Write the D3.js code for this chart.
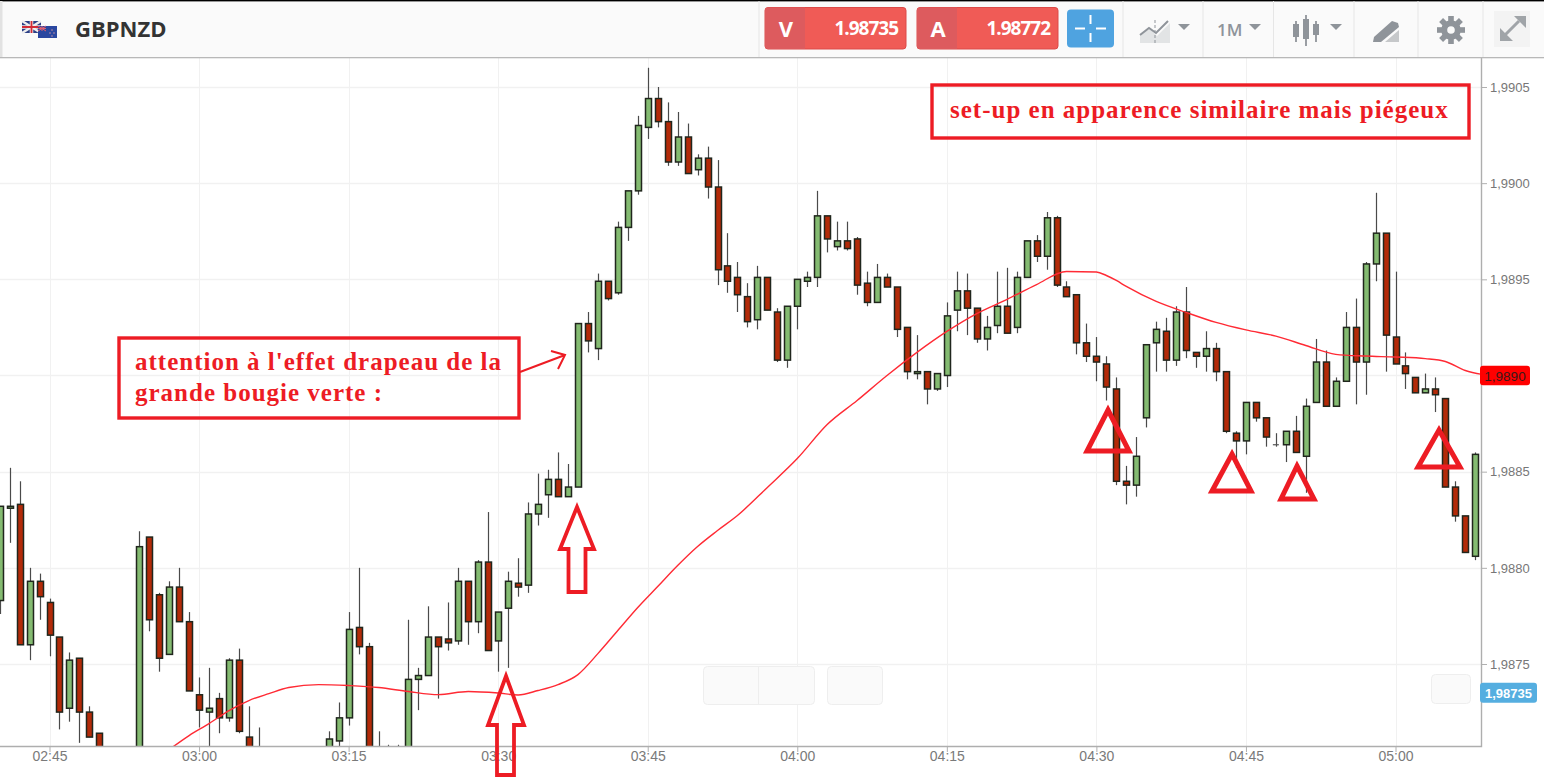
<!DOCTYPE html>
<html lang="fr">
<head>
<meta charset="utf-8">
<title>GBPNZD</title>
<script src="https://cdn.jsdelivr.net/npm/d3@7"></script>
<style>
html,body{margin:0;padding:0;background:#fff;overflow:hidden}
svg{display:block;font-family:"Liberation Sans",Arial,sans-serif}
</style>
</head>
<body>
<div id="chart"></div>
<script>
// Quotes are kept as points (1e-5) above 1.98000
const quoteBase = 1.98, pointSize = 1e-5;
const minutes = [160,161,162,163,164,165,166,167,168,169,170,
174,175,176,177,178,179,180,181,182,183,184,185,186,
193,194,195,196,197,198,199,200,201,202,203,204,205,206,207,208,209,210,211,212,213,214,215,216,217,218,219,
220,221,222,223,224,225,226,227,228,229,230,231,232,233,234,235,236,237,238,239,
240,241,242,243,244,245,246,247,248,249,250,251,252,253,254,255,256,257,258,259,
260,261,262,263,264,265,266,267,268,269,270,271,272,273,274,275,276,277,278,279,
280,281,282,283,284,285,286,287,288,289,290,291,292,293,294,295,296,297,298,299,
300,301,302,303,304,305,306,307,308];
const opens = [783,831,833,760,793,782,764,727,753,725,714,
684,816,786,755,790,772,734,725,732,722,752,712,704,
695,710,722,769,759,704,705,705,684,742,744,764,763,762,793,772,803,762,779,792,791,828,838,846,837,842,927,
914,949,943,977,996,1029,1044,1032,1011,1024,1007,1013,998,957,951,941,929,951,933,908,
936,949,951,983,967,970,971,948,938,951,946,925,901,902,893,900,934,944,935,919,
926,936,925,951,970,962,982,946,942,917,910,906,893,845,843,878,917,923,908,933,
912,910,914,902,870,866,886,878,864,864,871,858,886,907,884,897,925,907,958,974,
920,905,899,891,893,888,842,827,806];
const closes = [832,832,760,793,785,765,725,752,725,712,700,
811,773,753,790,772,736,726,727,722,752,715,695,695,
711,722,768,759,692,695,700,700,742,744,764,759,761,793,772,803,757,777,793,790,828,833,846,837,842,927,918,
949,940,977,996,1030,1044,1032,1011,1024,1005,1013,998,955,949,942,928,951,934,908,936,
950,951,983,971,970,966,947,938,951,946,924,902,902,893,901,931,944,935,919,925,
936,922,951,970,962,982,947,941,917,910,907,894,845,843,858,916,924,908,933,913,
910,914,902,871,866,886,878,868,864,871,860,884,907,884,897,925,907,958,974,921,
906,901,891,893,890,842,827,808,859];
const highs = [832,852,845,800,797,784,764,756,753,728,714,
819,816,787,793,800,777,743,748,735,753,758,728,717,
715,730,777,800,761,715,708,708,773,748,780,764,782,800,793,804,829,777,798,805,834,849,851,860,854,927,933,
953,949,980,996,1035,1060,1050,1042,1037,1031,1015,1019,1012,974,959,948,957,951,935,936,
950,954,996,983,980,980,972,954,958,953,946,925,921,902,901,938,954,953,935,931,
954,956,954,970,973,985,983,949,942,927,920,910,899,853,868,916,928,930,936,946,
912,923,917,902,871,886,886,878,870,871,879,888,919,913,899,933,940,959,995,974,
954,912,899,901,899,888,845,827,860];
const lows = [776,813,760,752,773,754,716,720,709,712,697,
679,767,746,755,772,736,717,705,714,720,714,692,692,
692,705,718,755,689,692,697,697,682,726,744,732,757,760,760,766,757,746,748,785,787,822,826,837,837,842,912,
908,939,942,970,994,1023,1029,1009,1009,1005,1004,992,947,943,933,925,924,934,907,904,
924,946,946,964,965,965,942,936,938,946,920,898,898,885,892,894,923,921,917,913,
922,922,922,951,959,955,946,941,911,907,897,887,843,833,837,873,902,902,905,909,
904,902,897,870,852,859,876,863,863,855,860,839,886,884,884,897,885,890,949,902,
906,893,891,891,881,842,824,808,804];

// Red moving-average line
const maMinutes = [177,179,181,183,185,187,189,192,195,198,201,204,207,210,212,214,216,218,220,222,224,226,228,230,232,234,237,240,243,246,249,252,255,258,261,264,267,270,271,272,273,276,279,282,285,288,291,294,297,300,303,305,307,309];
const maValues = [705.5,712.8,719,725.8,731,734.6,737.8,739.3,738.8,737.8,735.7,734.1,735.7,734.9,733.9,736.2,739.3,744.5,755.4,767.4,779.4,790.3,801.2,811.1,819.4,827.2,841.8,856.8,874.5,887,900,912,922.9,932.2,939.5,947.3,954.1,953.8,952,949.4,946.3,938.5,932.8,927.6,923.7,920.5,915.6,911,910.1,909.6,908.8,907.3,902.6,900.3];

const xTickMinutes = [165,180,195,210,225,240,255,270,285,300];
const xTickLabels = ["02:45","03:00","03:15","03:30","03:45","04:00","04:15","04:30","04:45","05:00"];
const yTicks = [1.9905,1.99,1.9895,1.989,1.9885,1.988,1.9875];
const symbol = "GBPNZD";
const bidLabel = "V", askLabel = "A", bidPrice = "1.98735", askPrice = "1.98772";
const lastLinePrice = 1.989, lastBidPrice = 1.98735;
const note1 = ["attention à l'effet drapeau de la","grande bougie verte :"];
const note2 = "set-up en apparence similaire mais piégeux";

const W = 1544, H = 781, plotRight = 1482, plotBottom = 747, plotTop = 58;
const price = v => quoteBase + v * pointSize;
const x = d3.scaleLinear().domain([165,300]).range([49.5,1395.5]);
const y = d3.scaleLinear().domain([1.9905,1.9875]).range([87,664]);
const GREEN = "#84bb71", RED = "#b32a08", EDGE = "#20261d", ANNOT = "#ed1c24";

const svg = d3.select("#chart").append("svg").attr("width",W).attr("height",H);
svg.append("rect").attr("width",W).attr("height",H).attr("fill","#fff");

svg.append("defs").append("clipPath").attr("id","plot").append("rect")
  .attr("x",0).attr("y",plotTop).attr("width",plotRight).attr("height",plotBottom-plotTop);

// grid
const grid = svg.append("g");
grid.selectAll("line.v").data(xTickMinutes).join("line").attr("class","v")
  .attr("x1",d=>Math.round(x(d))+.5).attr("x2",d=>Math.round(x(d))+.5)
  .attr("y1",plotTop).attr("y2",plotBottom).attr("stroke","#f1f1f1");
grid.selectAll("line.h").data(yTicks).join("line").attr("class","h")
  .attr("x1",0).attr("x2",plotRight).attr("y1",d=>Math.round(y(d))+.5).attr("y2",d=>Math.round(y(d))+.5)
  .attr("stroke","#f1f1f1").attr("stroke-width",1.4);

// faint floating buttons
const faint = svg.append("g").attr("fill","#fafafa").attr("stroke","#eeeeee");
[[703,666,111,38],[827,666,55,38],[1431,674,39,29]].forEach(b=>{
  faint.append("rect").attr("x",b[0]+.5).attr("y",b[1]+.5).attr("width",b[2]).attr("height",b[3]).attr("rx",4);
});
faint.append("line").attr("x1",758.5).attr("x2",758.5).attr("y1",666).attr("y2",704);

// candles
const candles = minutes.map((m,i)=>({m,open:price(opens[i]),close:price(closes[i]),high:price(highs[i]),low:price(lows[i])}));
const gc = svg.append("g").attr("clip-path","url(#plot)");
const cand = gc.selectAll("g.c").data(candles).join("g").attr("class","c");
cand.append("line")
  .attr("x1",d=>Math.round(x(d.m))+.5).attr("x2",d=>Math.round(x(d.m))+.5)
  .attr("y1",d=>y(d.high)).attr("y2",d=>y(d.low))
  .attr("stroke","#4a4a4a").attr("stroke-width",1.2);
cand.filter(d=>d.open!==d.close).append("rect")
  .attr("x",d=>Math.round(x(d.m))-2.5).attr("width",6)
  .attr("y",d=>y(Math.max(d.open,d.close)))
  .attr("height",d=>Math.abs(y(d.open)-y(d.close)))
  .attr("fill",d=>d.close>d.open?GREEN:RED)
  .attr("stroke",EDGE).attr("stroke-width",1.5);
cand.filter(d=>d.open===d.close).append("line")
  .attr("x1",d=>x(d.m)-3).attr("x2",d=>x(d.m)+3)
  .attr("y1",d=>y(d.open)).attr("y2",d=>y(d.open))
  .attr("stroke","#555").attr("stroke-width",1.2);

// moving average
gc.append("path").datum(maMinutes.map((m,i)=>[m,price(maValues[i])]))
  .attr("fill","none").attr("stroke","#ff2a34").attr("stroke-width",1.4)
  .attr("d",d3.line().x(d=>x(d[0])).y(d=>y(d[1])).curve(d3.curveMonotoneX));

// axes
const comma = (f,v) => d3.format(f)(v).replace(".",",");
const xAxis = d3.axisBottom(x).tickValues(xTickMinutes).tickFormat((d,i)=>xTickLabels[i]).tickSize(5).tickSizeOuter(0);
const gx = svg.append("g").attr("transform",`translate(0,${plotBottom})`).call(xAxis);
gx.select(".domain").remove();
gx.selectAll("line").attr("stroke","#b0b0b0");
gx.selectAll("text").attr("fill","#7a7a7a").attr("font-size",14).attr("font-family",'"Liberation Sans",Arial,sans-serif').attr("dy","0.45em");
// the 1,9890 label sits under the red price badge, which carries the same text
const yAxis = d3.axisRight(y).tickValues(yTicks).tickFormat(d=>d===lastLinePrice?"":comma(".4f",d)).tickSize(5).tickSizeOuter(0);
const gy = svg.append("g").attr("transform",`translate(${plotRight},0)`).call(yAxis);
gy.select(".domain").remove();
gy.selectAll("line").attr("stroke","#b0b0b0");
gy.selectAll("text").attr("fill","#777").attr("font-size",13).attr("font-family",'"Liberation Sans",Arial,sans-serif').attr("x",8);
svg.append("path").attr("d",`M${plotRight-.5},${plotTop}V${plotBottom-.5}H0`).attr("fill","none").attr("stroke","#aeaeae").attr("stroke-width",1.4);

// price badges
function badge(val,txt,w,h,fill,col,weight,size){
  const g = svg.append("g");
  g.append("rect").attr("x",plotRight-2).attr("y",y(val)-h/2).attr("width",w).attr("height",h).attr("rx",3).attr("fill",fill);
  g.append("text").attr("x",plotRight-2+w/2).attr("y",y(val)+5).attr("text-anchor","middle")
   .attr("font-size",size).attr("font-weight",weight).attr("fill",col).text(txt);
}
badge(lastLinePrice,comma(".4f",lastLinePrice),50,19.5,"#ff0000","#3a1a1a","normal",13.5);
badge(lastBidPrice,comma(".5f",lastBidPrice),57,20,"#55aee0","#fff","bold",13);

// header
const hd = svg.append("g");
hd.append("rect").attr("width",W).attr("height",57).attr("fill","#fafafa");
hd.append("rect").attr("width",W).attr("height",1.4).attr("fill","#000");
hd.append("rect").attr("y",57).attr("width",W).attr("height",1.3).attr("fill","#b8b8b8");
hd.append("rect").attr("y",1).attr("width",2.5).attr("height",56).attr("fill","#e2e2e2");
[759,1123,1203,1273.5,1354,1418,1483].forEach(s=>hd.append("line").attr("x1",s).attr("x2",s).attr("y1",1).attr("y2",57).attr("stroke","#e6e6e6"));

// flags
const uk = hd.append("g");
uk.append("rect").attr("x",22).attr("y",21).attr("width",19).attr("height",12).attr("fill","#2b3f86");
uk.append("path").attr("d","M22,21L41,33M41,21L22,33").attr("stroke","#eee").attr("stroke-width",2.5);
uk.append("path").attr("d","M31.5,21V33M22,27H41").attr("stroke","#eee").attr("stroke-width",3.5);
uk.append("path").attr("d","M31.5,21V33M22,27H41").attr("stroke","#d22b36").attr("stroke-width",1.8);
const nz = hd.append("g");
nz.append("rect").attr("x",38).attr("y",26).attr("width",19).attr("height",12).attr("fill","#2a47a0");
nz.append("path").attr("d","M38,26L46,31M46,26L38,31M42,26V31M38,28.5H46").attr("stroke","#e06070").attr("stroke-width",1);
[[52,30],[50,33],[54,33],[52,36]].forEach(s=>nz.append("circle").attr("cx",s[0]).attr("cy",s[1]).attr("r",.7).attr("fill","#e9a0a0"));

hd.append("text").attr("x",75).attr("y",37).attr("font-family",'"Open Sans",sans-serif').attr("font-weight",700).attr("font-size",22).attr("fill","#333").text(symbol);

function priceButton(x0,label,val){
  hd.append("rect").attr("x",x0).attr("y",7.5).attr("width",141).attr("height",41.5).attr("rx",3).attr("fill","#f05b56").attr("stroke","#dc4a48");
  hd.append("path").attr("d",`M${x0+40},7.5H${x0+3}a3,3 0 0 0 -3,3V46a3,3 0 0 0 3,3H${x0+40}Z`).attr("fill","#dd5b5e");
  hd.append("text").attr("x",x0+21).attr("y",36.5).attr("text-anchor","middle").attr("font-family",'"Open Sans",sans-serif').attr("font-weight",700).attr("font-size",22).attr("fill","#fff").text(label);
  hd.append("text").attr("x",x0+133).attr("y",35).attr("text-anchor","end").attr("font-family",'"Open Sans",sans-serif').attr("font-weight",700).attr("font-size",19).attr("letter-spacing",-1).attr("fill","#fff").text(val);
}
priceButton(765,bidLabel,bidPrice);
priceButton(917,askLabel,askPrice);

// crosshair button
hd.append("rect").attr("x",1067).attr("y",9.5).attr("width",47).attr("height",38).attr("rx",4).attr("fill","#4fa3e0");
hd.append("path").attr("d","M1090.5,15V24M1090.5,33V42M1075,28.5H1085M1096,28.5H1106").attr("stroke","#fff").attr("stroke-width",2);

// toolbar icons
const ICON = "#8f949a";
const tri = (cx)=>hd.append("path").attr("d",`M${cx-6},24H${cx+6}L${cx},30Z`).attr("fill",ICON);
hd.append("path").attr("d","M1140,43V34L1150,29L1157,36L1170,23V43Z").attr("fill","#e2e4e5");
hd.append("path").attr("d","M1140,35L1149,28L1156,33L1168,21").attr("fill","none").attr("stroke",ICON).attr("stroke-width",2);
hd.append("line").attr("x1",1155).attr("x2",1155).attr("y1",20).attr("y2",43).attr("stroke",ICON).attr("stroke-dasharray","3,2");
tri(1184);
hd.append("text").attr("x",1217).attr("y",35.5).attr("font-family",'"Open Sans",sans-serif').attr("font-weight",600).attr("font-size",17).attr("fill",ICON).text("1M");
tri(1255);
[[1296,21,37,24,34],[1306,15,41,19,36],[1316,21,37,24,32]].forEach(c=>{
  hd.append("line").attr("x1",c[0]).attr("x2",c[0]).attr("y1",c[1]).attr("y2",c[2]+5).attr("stroke",ICON).attr("stroke-width",1.8);
  hd.append("rect").attr("x",c[0]-3).attr("y",c[3]).attr("width",6).attr("height",c[4]-c[3]+3).attr("fill",ICON);
});
tri(1336);
hd.append("path").attr("d","M1374,37L1392,21L1398,23L1399,27L1381,42L1373,42Z").attr("fill",ICON);
hd.append("path").attr("d","M1385,42L1399,30V42Z").attr("fill","#c6c8ca");

const gear = hd.append("g").attr("transform","translate(1451,30)");
d3.range(8).forEach(i=>gear.append("rect").attr("x",-2.8).attr("y",-14).attr("width",5.6).attr("height",6).attr("fill",ICON).attr("transform",`rotate(${i*45})`));
gear.append("circle").attr("r",6.8).attr("fill","none").attr("stroke",ICON).attr("stroke-width",6);

hd.append("rect").attr("x",1494).attr("y",11).attr("width",36).attr("height",36).attr("fill","#f3f3f3");
hd.append("path").attr("d","M1505,35L1519,21").attr("stroke","#a0a4a8").attr("stroke-width",3);
hd.append("path").attr("d","M1514,16H1526V28ZM1500,28V41H1513Z").attr("fill","#a0a4a8");

// annotations
const an = svg.append("g").attr("fill","none").attr("stroke",ANNOT).attr("stroke-width",3.4).attr("stroke-linejoin","miter");
an.append("rect").attr("x",119).attr("y",338).attr("width",400).attr("height",80);
an.append("rect").attr("x",932).attr("y",85).attr("width",537).attr("height",53);
an.append("path").attr("d","M520,372L565,355M551,351L565,355L558,369").attr("stroke-width",2);
[[506,676,488,524,725,497,514,775],[577,507,560,594,549,568.5,585.5,592]].forEach(a=>{
  an.append("path").attr("d",`M${a[0]},${a[1]}L${a[3]},${a[4]}H${a[6]}V${a[7]}H${a[5]}V${a[4]}H${a[2]}Z`).attr("stroke-width",3.8);
});
[[1108,410,1087,1129,451],[1232,454,1212,1251,491],[1297,466,1281,1314,499],[1439,430,1418,1460,467]].forEach(t=>{
  an.append("path").attr("d",`M${t[0]},${t[1]}L${t[3]},${t[4]}H${t[2]}Z`).attr("stroke-width",5);
});
const serif = '"Liberation Serif","Times New Roman",serif';
note1.forEach((t,i)=>svg.append("text").attr("x",135).attr("y",370+i*30.5).attr("font-family",serif).attr("font-weight",700).attr("font-size",25).attr("letter-spacing",1).attr("fill",ANNOT).text(t));
svg.append("text").attr("x",950).attr("y",118).attr("font-family",serif).attr("font-weight",700).attr("font-size",25).attr("letter-spacing",1).attr("fill",ANNOT).text(note2);
</script>
</body>
</html>
